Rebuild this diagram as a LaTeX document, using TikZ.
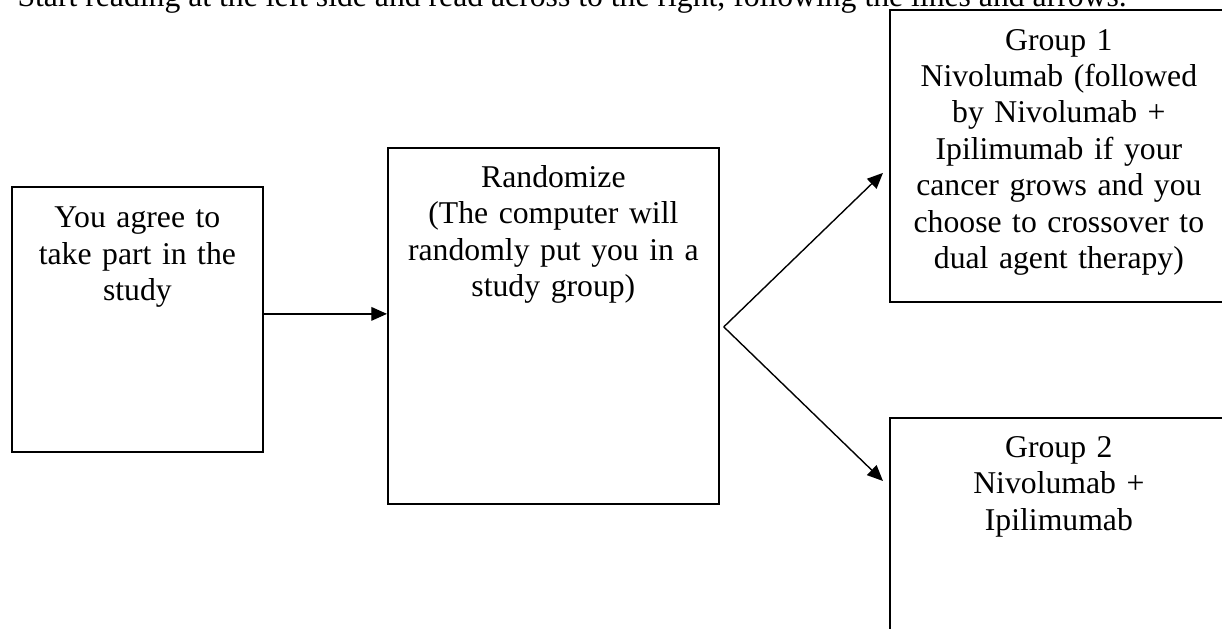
\documentclass[tikz,border=0pt]{standalone}
\usepackage{fontspec}
\setmainfont{Liberation Serif}
\usetikzlibrary{positioning,arrows.meta}
\newcommand{\pxu}{0.3943pt}

\begin{document}
\begin{tikzpicture}[x=\pxu,y=-\pxu,
  box/.style={draw,line width=0.7pt,inner sep=0pt,anchor=north west},
  boxtext/.style={anchor=north,inner sep=0pt,align=center,font=\fontsize{12.5}{14.35}\selectfont},
  flow/.style={line width=0.55pt,-{Triangle[length=6.2pt,width=5.4pt]}}]
\clip (0,0) rectangle (1222,629);
\fill[white] (0,0) rectangle (1222,629);

\node[anchor=base west,inner sep=0pt,font=\fontsize{12.5}{14.35}\selectfont] (intro) at (17,6)
  {Start reading at the left side and read across to the right, following the lines and arrows.};

% boxes
\node[box,minimum width=251*\pxu,minimum height=265*\pxu] (agree) at (11,186) {};
\node[box,minimum width=331*\pxu,minimum height=356*\pxu] (rand) at (387,147) {};
\node[box,minimum width=338*\pxu,minimum height=292*\pxu] (grp1) at (889,9) {};
\node[box,minimum width=338*\pxu,minimum height=260*\pxu] (grp2) at (889,417) {};

% texts
\node[boxtext,text width=95pt,below=6.3pt of agree.north] (agreetxt)
  {\strut You agree to\\take part in the\\study};
\node[boxtext,text width=125pt,below=5.7pt of rand.north] (randtxt)
  {\strut Randomize\\(The computer will\\randomly put you in a\\study group)};
\node[boxtext,text width=130pt,below=6pt of grp1.north] (grp1txt)
  {\strut Group 1\\Nivolumab (followed\\by Nivolumab +\\Ipilimumab if your\\cancer grows and you\\choose to crossover to\\dual agent therapy)};
\node[boxtext,text width=130pt,below=5.7pt of grp2.north] (grp2txt)
  {\strut Group 2\\Nivolumab +\\Ipilimumab};

% arrows
\coordinate (a1) at ([shift={(0,-5.5)}]agree.east);
\draw[flow] (a1) -- (a1 -| rand.west);
\coordinate (fork) at ([shift={(4,1)}]rand.east);
\coordinate (g1in) at ([shift={(-6,17)}]grp1.west);
\coordinate (g2in) at ([shift={(-6,64)}]grp2.north west);
\draw[flow] (fork) -- (g1in);
\draw[flow] (fork) -- (g2in);
\end{tikzpicture}
\end{document}
